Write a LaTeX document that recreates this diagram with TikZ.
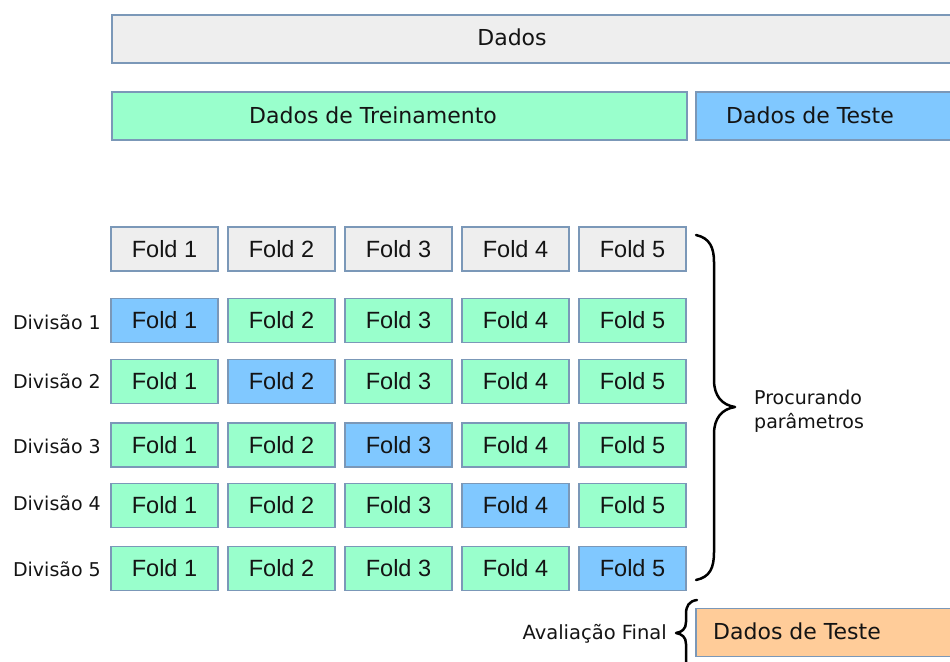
\documentclass[tikz,border=0pt]{standalone}
\usepackage{fontspec}
\setmainfont{DejaVu Sans}
\newfontfamily\foldfont{Liberation Sans}
\definecolor{bordc}{HTML}{7B98B8}
\definecolor{greyf}{HTML}{EEEEEE}
\definecolor{greenf}{HTML}{99FFCC}
\definecolor{bluef}{HTML}{80C8FF}
\definecolor{orangef}{HTML}{FFCC99}
\definecolor{txt}{HTML}{141414}
\tikzset{
  databox/.style={draw=bordc, line width=1.5pt, inner sep=0pt, minimum height=48pt, anchor=west},
  foldbox/.style={draw=bordc, line width=1.5pt, inner sep=0pt, minimum width=107pt, minimum height=44pt,
    font=\foldfont\fontsize{23.5}{27}\selectfont, text=txt},
  bigtxt/.style={font=\fontsize{22}{26}\selectfont, text=txt, inner sep=0pt},
  lbltxt/.style={font=\fontsize{19}{24}\selectfont, text=txt, inner sep=0pt},
  bracepath/.style={draw=black, line width=2.5pt, line cap=round, line join=round}
}
\begin{document}
\begin{tikzpicture}[x=1pt,y=-1pt]
\clip (0,0) rectangle (950,661);
\fill[white] (0,0) rectangle (950,661);
% top boxes
\node[databox, fill=greyf, minimum width=860pt] (dados) at (111,39) {};
\node[bigtxt] (tdados) at (512,37) {Dados};
\node[databox, fill=greenf, minimum width=575pt] (treino) at (111,116) {};
\node[bigtxt] (ttreino) at (373,115) {Dados de Treinamento};
\node[databox, fill=bluef, minimum width=275pt] (teste) at (695,116) {};
\node[bigtxt] (tteste) at (810,115) {Dados de Teste};
% header folds
\foreach \c [count=\i] in {164.5,281.5,398.5,515.5,632.5}{
  \node[foldbox, fill=greyf] (h\i) at (\c,249) {Fold \i};
}
% division rows
\foreach \r/\y/\ly in {1/320.5/322,2/381.5/381,3/445/446,4/505.5/503,5/568.5/569}{
  \node[lbltxt, anchor=east] (d\r) at (101,\ly) {Divisão \r};
  \foreach \c [count=\i] in {164.5,281.5,398.5,515.5,632.5}{
    \ifnum\i=\r
      \node[foldbox, fill=bluef] (f\r\i) at (\c,\y) {Fold \i};
    \else
      \node[foldbox, fill=greenf] (f\r\i) at (\c,\y) {Fold \i};
    \fi
  }
}
% big brace
\coordinate (btop) at (696,235);
\coordinate (bbot) at (696,580);
\coordinate (btip) at (735,407);
\path[bracepath] (btop) .. controls (710,238) and (714,248) .. (714,262)
  -- (714,380) .. controls (714,396) and (722,405) .. (btip)
  .. controls (722,409) and (714,418) .. (714,434)
  -- (714,552) .. controls (714,568) and (710,577) .. (bbot);
\node[lbltxt, anchor=west, align=left] (proc) at (754,411) {Procurando\\parâmetros};
% bottom
\node[databox, fill=orangef, minimum width=275pt] (teste2) at (695,632.5) {};
\node[bigtxt] (tteste2) at (797,631) {Dados de Teste};
\coordinate (ctop) at (697,600);
\coordinate (ctip) at (676,633);
\coordinate (cbot) at (686,670);
\path[bracepath] (ctop) .. controls (689,601) and (686,606) .. (686,614)
  -- (686,622) .. controls (686,629) and (682,632) .. (ctip)
  .. controls (682,634) and (686,637) .. (686,644)
  -- (cbot);
\node[lbltxt, font=\fontsize{19.5}{24}\selectfont, anchor=east] (aval) at (667,634) {Avaliação Final};
\end{tikzpicture}
\end{document}
